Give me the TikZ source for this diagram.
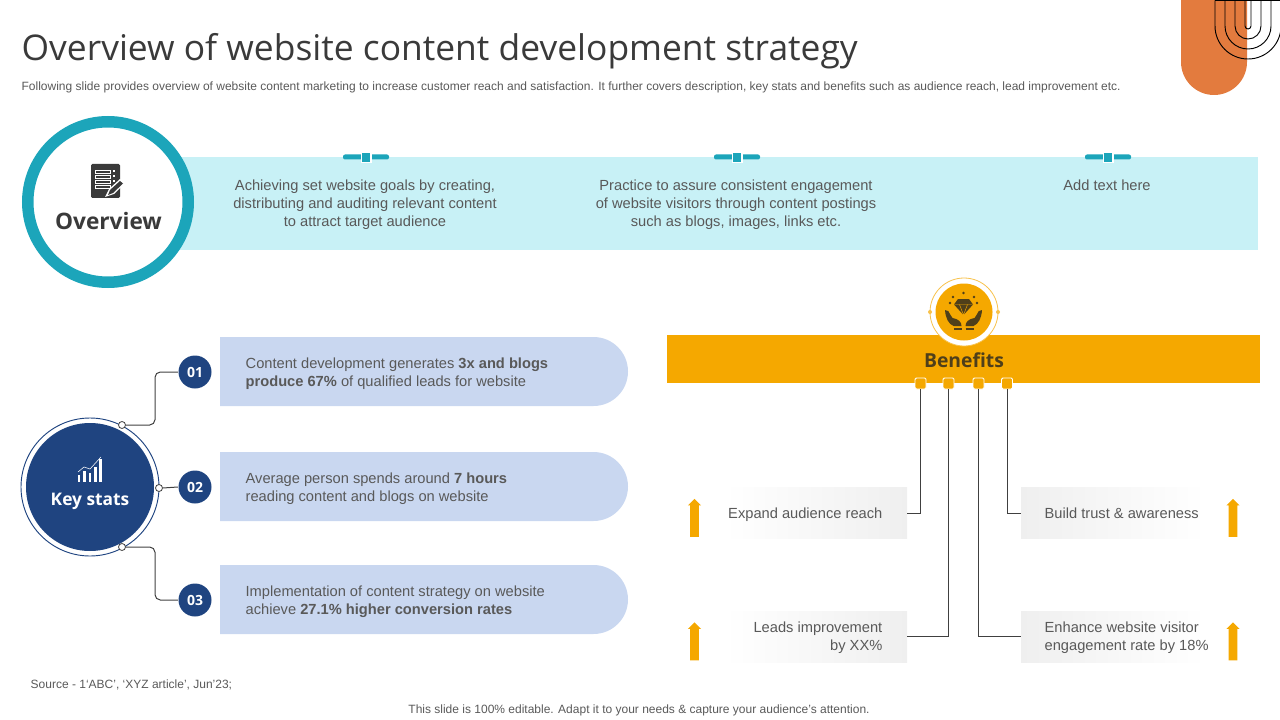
\documentclass[tikz,border=0pt]{standalone}
\usepackage{fontspec}
\setmainfont{Liberation Sans}
\newfontfamily\headfont{Open Sans}
\usetikzlibrary{shapes.misc,shapes.arrows}
\definecolor{tealring}{HTML}{1CA5BA}
\definecolor{tealband}{HTML}{C8F1F6}
\definecolor{navy}{HTML}{1F4480}
\definecolor{pillblue}{HTML}{C9D7F0}
\definecolor{amber}{HTML}{F5A800}
\definecolor{orangetab}{HTML}{E37B3E}
\definecolor{bodytext}{HTML}{595959}
\definecolor{darktext}{HTML}{3A3A3A}
\definecolor{boxgrey}{HTML}{EFEFEF}
\definecolor{linegrey}{HTML}{404040}
\definecolor{iconbrown}{HTML}{4F3F1A}
\def\px{0.75pt}

\begin{document}
\begin{tikzpicture}[x=0.75pt,y=-0.75pt,line width=1pt]
	\tikzstyle{body}=[font=\fontsize{11}{13.3}\selectfont,text=bodytext,align=center,inner sep=0pt]
	\tikzstyle{bodyleft}=[body,align=left,anchor=west]
	\tikzstyle{boxtext}=[body]
	\tikzstyle{small}=[font=\fontsize{9}{11}\selectfont,text=bodytext,inner sep=0pt]
	\tikzstyle{disc}=[circle,draw=none,inner sep=0pt]
	\tikzstyle{pill}=[rounded rectangle,rounded rectangle left arc=none,fill=pillblue,minimum width=408*\px,minimum height=69*\px,inner sep=0pt,outer sep=0pt,anchor=west]
	\tikzstyle{numdisc}=[disc,fill=navy,minimum size=33*\px,text=white,font=\headfont\bfseries\fontsize{10.5}{12}\selectfont]
	\tikzstyle{dot}=[disc,fill=white,draw=linegrey,line width=0.6pt,minimum size=7*\px]
	\tikzstyle{tab}=[rectangle,fill=amber,draw=white,line width=0.7pt,rounded corners=1pt,minimum size=11*\px,inner sep=0pt]
	\tikzstyle{link}=[draw=linegrey,line width=0.75pt]
	\tikzstyle{boxleft}=[rectangle,left color=white,right color=boxgrey,minimum width=182*\px,minimum height=51*\px,inner sep=0pt,outer sep=0pt,anchor=west]
	\tikzstyle{boxright}=[rectangle,left color=boxgrey,right color=white,minimum width=184*\px,minimum height=51*\px,inner sep=0pt,outer sep=0pt,anchor=west]
	\tikzstyle{uparrow}=[single arrow,fill=amber,rotate=90,minimum width=12*\px,single arrow head extend=1.7pt,single arrow head indent=0pt,minimum height=38*\px,inner sep=2.8pt,outer sep=0pt]
	\useasboundingbox (0,0) rectangle (1280,720);
	
	% Draw the corner tab
	\fill[orangetab] (1181,0) -- (1181,62) arc[start angle=180,end angle=360,radius=33*\px] -- (1247,0) -- cycle;
	\foreach \r in {3,13,23,33}
	\draw[black,line width=0.7pt] (1248-\r,0.5) -- (1248-\r,26) arc[start angle=180,end angle=360,radius=\r*\px] -- (1248+\r,0.5);
	\draw[black,line width=0.7pt] (1215,0.5) -- (1280,0.5);
	
	% Draw the heading
	\node[anchor=west,inner sep=0pt,text=darktext,font=\headfont\fontsize{26.55}{32}\selectfont] (title) at (21,51) {Overview of website content development strategy};
	\node[anchor=west,small] (subtitle) at (21,87) {Following slide provides overview of website content marketing to increase customer reach and satisfaction. It further covers description, key stats and benefits such as audience reach, lead improvement etc.};
	
	% Draw the overview band
	\fill[tealband] (170,157) rectangle (1258,250);
	\foreach \x in {366,737,1108}{
		\fill[tealring,rounded corners=1.5pt] (\x-23,154.5) rectangle (\x+23,159.5);
		\fill[white] (\x-5.5,153) rectangle (\x+5.5,163);
		\fill[tealring] (\x-4,153) rectangle (\x+4,162);
	}
	\node[disc,draw=tealring,fill=white,line width=11.5*\px,minimum size=160.5*\px] (overview) at (108,202) {};
	\node[text=darktext,inner sep=0pt,font=\headfont\bfseries\fontsize{17}{20}\selectfont] (overviewlabel) at (108.5,221) {Overview};
	\node[body] (goal-1) at (365,204.5) {Achieving set website goals by creating,\\distributing and auditing relevant content\\to attract target audience};
	\node[body] (goal-2) at (736,204.5) {Practice to assure consistent engagement\\of website visitors through content postings\\such as blogs, images, links etc.};
	\node[body] (goal-3) at (1107,185) {Add text here};
	
	% Draw the document icon
	\fill[darktext,rounded corners=1pt] (91,164) rectangle (120,198);
	\foreach \y in {170,175,180,185}{
		\draw[white,line width=0.4pt] (95,\y) rectangle (110,\y+3);
		\fill[white] (113,\y) rectangle (115,\y+2);
	}
	\fill[white] (105,197) -- (109,189) -- (120,179) -- (125,183) -- (114,194) -- cycle;
	\fill[darktext] (108,195) -- (110,190) -- (120,181) -- (123,183.5) -- (113,193) -- cycle;
	
	% Draw the key stats hub
	\node[disc,draw=navy,fill=white,line width=0.7pt,minimum size=138*\px] (hubring) at (90,487) {};
	\node[disc,fill=navy,minimum size=128*\px] (hub) at (90,487) {};
	\node[text=white,inner sep=0pt,font=\headfont\bfseries\fontsize{13}{16}\selectfont] (hublabel) at (90,501) {Key stats};
	\foreach \x/\h in {79/7,84.5/11,90/9,95.5/15,100.5/23}
	\fill[white] (\x-1.4,482) rectangle (\x+1.4,482-\h);
	\draw[white,line width=0.4pt] (78,472) -- (84,467) -- (90,469) -- (101,457);
	
	% Draw the stat rows
	\foreach \n/\y/\lab in {1/372/01,2/487/02,3/600/03}{
		\node[numdisc] (N-\n) at (195,\y) {\lab};
	}
	\node[pill] (P-1) at (220,371.5) {};
	\node[pill] (P-2) at (220,486.5) {};
	\node[pill] (P-3) at (220,599.5) {};
	\node[bodyleft] (S-1) at (245,374) {Content development generates \textbf{3x and blogs}\\\textbf{produce 67\%} of qualified leads for website};
	\node[bodyleft] (S-2) at (245,489) {Average person spends around \textbf{7 hours}\\reading content and blogs on website};
	\node[bodyleft] (S-3) at (245,602) {Implementation of content strategy on website\\achieve \textbf{27.1\% higher conversion rates}};
	
	% Connect the hub with the stat rows
	\node[dot] (D-1) at (122,425) {};
	\node[dot] (D-2) at (159,488) {};
	\node[dot] (D-3) at (122,547) {};
	\coordinate (J-1) at (155,400);
	\coordinate (J-3) at (155,570);
	\draw[link,rounded corners=4pt] (D-1.east) -- (D-1.east -| J-1) -- (N-1.west -| J-1) -- (N-1.west);
	\draw[link] (D-2.east) -- (N-2.west);
	\draw[link,rounded corners=4pt] (D-3.east) -- (D-3.east -| J-3) -- (N-3.west -| J-3) -- (N-3.west);
	
	% Draw the benefits bar
	\fill[amber] (667,335) rectangle (1260,383);
	\node[disc,draw=amber!70!white,fill=white,line width=0.6pt,minimum size=68*\px] (badgering) at (964,312) {};
	\node[disc,fill=amber,minimum size=57*\px] (badge) at (964,312) {};
	\fill[amber!70!white] (930,312) circle[radius=2*\px] (998,312) circle[radius=2*\px];
	\node[text=iconbrown,inner sep=0pt,font=\headfont\bfseries\fontsize{14.5}{18}\selectfont] (benefits) at (964,360) {Benefits};
	
	% Draw the diamond and hands icon
	\fill[iconbrown] (958,299) -- (969,299) -- (973,304.5) -- (963.5,315) -- (954,304.5) -- cycle;
	\draw[amber,line width=0.35pt] (954,304.5) -- (973,304.5) (959.5,304.5) -- (963.5,315) -- (967.5,304.5);
	\foreach \x/\y in {963.5/293,953/297,974/297,950/303,977/303}
	\fill[iconbrown] (\x,\y) circle[radius=1.4*\px];
	\foreach \s in {-1,1}{
		\fill[iconbrown] (963.5+\s*18.5,310) .. controls (963.5+\s*16,309.5) and (963.5+\s*14,312) .. (963.5+\s*13,315) -- (963.5+\s*11,318) .. controls (963.5+\s*5,319) and (963.5+\s*2,322) .. (963.5+\s*2,326) -- (963.5+\s*10,326) .. controls (963.5+\s*15,324) and (963.5+\s*18,318) .. cycle;
		\draw[iconbrown,line width=0.9pt] (963.5+\s*2,329) -- (963.5+\s*10,329);
	}
	
	% Draw the benefit boxes
	\node[boxleft] (B-1) at (725,513) {};
	\node[boxleft] (B-2) at (725,636.5) {};
	\node[boxright] (B-3) at (1021,636.5) {};
	\node[boxright] (B-4) at (1021,513) {};
	\node[boxtext,anchor=east,align=right] (L-1) at (883,514.5) {Expand audience reach};
	\node[boxtext,anchor=east,align=right] (L-2) at (883,638) {Leads improvement\\by XX\%};
	\node[boxtext,anchor=west,align=left] (L-3) at (1044,638) {Enhance website visitor\\engagement rate by 18\%};
	\node[boxtext,anchor=west,align=left] (L-4) at (1044,513) {Build trust \& awareness};
	
	% Connect the bar tabs with the benefit boxes
	\foreach \n/\x in {1/920.5,2/948.5,3/978.5,4/1007}
	\node[tab] (T-\n) at (\x,383.5) {};
	\draw[link] (T-1.south) |- (B-1.east);
	\draw[link] (T-2.south) |- (B-2.east);
	\draw[link] (T-3.south) |- (B-3.west);
	\draw[link] (T-4.south) |- (B-4.west);
	
	% Draw the rising arrows
	\node[uparrow] (A-1) at (694.5,520) {};
	\node[uparrow] (A-2) at (694.5,643.5) {};
	\node[uparrow] (A-3) at (1233,643.5) {};
	\node[uparrow] (A-4) at (1233,520) {};
	
	% Draw the footer
	\node[anchor=west,small,font=\fontsize{9}{11}\selectfont] (source) at (30,685) {Source - 1‘ABC’, ‘XYZ article’, Jun’23;};
	\node[small] (footer) at (639,710) {This slide is 100\% editable. Adapt it to your needs \& capture your audience’s attention.};
\end{tikzpicture}
\end{document}
